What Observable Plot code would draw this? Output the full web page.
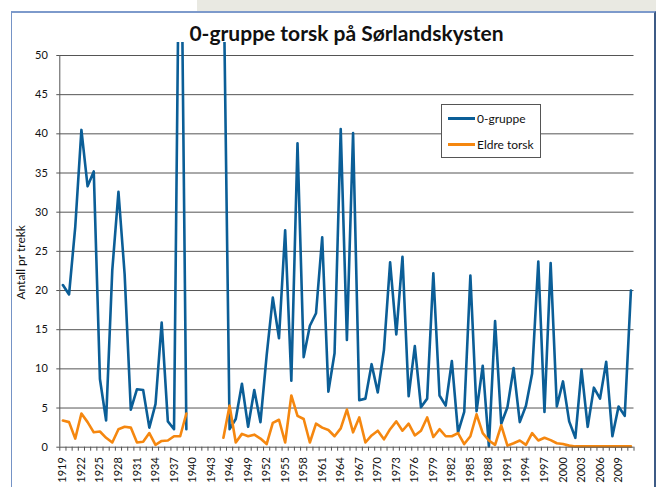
<!DOCTYPE html>
<html>
<head>
<meta charset="utf-8">
<script src="https://cdn.jsdelivr.net/npm/d3@7"></script>
<script src="https://cdn.jsdelivr.net/npm/@observablehq/plot@0.6"></script>
<style>
  html, body { margin: 0; padding: 0; background: #fff; width: 656px; height: 487px; overflow: hidden; }
  body { position: relative; font-family: Lato, "Open Sans", sans-serif; }
  #band { position: absolute; left: 197px; top: 0; width: 459px; height: 11px; background: #e9e9e2; }
  #frame { position: absolute; left: 11px; top: 11px; width: 642px; height: 480px;
           border-left: 1px solid #7593c6; border-top: 2px solid #7d9acb; border-right: 2px solid #3d5b86;
           pointer-events: none; z-index: 3; }
  #title { position: absolute; left: 59px; width: 575px; top: 19px; line-height: 28px; text-align: center;
           font-weight: bold; font-size: 21px; color: #111; z-index: 2; }
  #chart { position: absolute; left: 0; top: 42px; z-index: 1; }
  #legend { position: absolute; left: 441px; top: 104px; width: 98px; height: 52px; background: #fff;
            border: 1px solid #555; z-index: 2; font-size: 12px; color: #111; }
  .item { position: absolute; left: 6px; height: 16px; line-height: 16px; white-space: nowrap; }
  .sw { display: inline-block; width: 27px; height: 3px; vertical-align: middle; margin-right: 2px; position: relative; top: -1px; }
</style>
</head>
<body>
<div id="band"></div>
<div id="title">0-gruppe torsk på Sørlandskysten</div>
<div id="chart"></div>
<div id="legend"></div>
<div id="frame"></div>
<script>
// Categories: years 1919–2011
const firstYear = 1919, lastYear = 2011;
const years = d3.range(firstYear, lastYear + 1);

// 0-gruppe (antall pr trekk); null = no survey (1940–1944)
const gruppe0 = [
  20.7, 19.5, 28.1, 40.5, 33.3, 35.2, 8.7, 3.4, 22.6, 32.6,
  22.1, 4.8, 7.4, 7.3, 2.5, 5.5, 15.9, 3.3, 2.3, 80, 2.3,
  null, null, null, null, null,
  62, 2.3, 3.6, 8.1, 2.6, 7.3, 3.2, 11.7, 19.1, 13.9,
  27.7, 8.5, 38.8, 11.5, 15.5, 17.1, 26.8, 7.1, 12.0, 40.6,
  13.7, 40.1, 6.0, 6.2, 10.6, 7.0, 12.4, 23.6, 14.4, 24.3,
  6.5, 12.9, 5.1, 6.2, 22.2, 6.6, 5.3, 11.0, 1.9, 4.5,
  21.9, 4.6, 10.4, 0.1, 16.1, 3.0, 5.1, 10.1, 3.2, 5.3,
  9.4, 23.7, 4.5, 23.5, 5.2, 8.4, 3.3, 1.2, 9.9, 2.6,
  7.6, 6.2, 10.9, 1.4, 5.2, 4.0, 20.0
];

// Eldre torsk (antall pr trekk)
const eldre = [
  3.4, 3.2, 1.1, 4.3, 3.2, 1.9, 2.0, 1.2, 0.6, 2.3,
  2.6, 2.5, 0.6, 0.7, 1.8, 0.3, 0.8, 0.85, 1.4, 1.4, 4.3,
  null, null, null, null, null,
  1.2, 5.3, 0.6, 1.7, 1.4, 1.6, 1.1, 0.4, 3.1, 3.5,
  0.6, 6.6, 4.0, 3.6, 0.6, 3.0, 2.5, 2.2, 1.4, 2.4,
  4.8, 1.9, 3.8, 0.6, 1.5, 2.1, 1.0, 2.3, 3.3, 2.1,
  3.0, 1.5, 2.1, 3.8, 1.3, 2.3, 1.4, 1.4, 1.8, 0.4,
  1.4, 4.2, 1.8, 0.85, 0.3, 2.8, 0.2, 0.5, 0.85, 0.3,
  1.8, 0.85, 1.2, 0.9, 0.5, 0.4, 0.2, 0.1, 0.1, 0.1,
  0.1, 0.1, 0.1, 0.1, 0.1, 0.1, 0.1
];

const xLabels = ["1919", "1922", "1925", "1928", "1931", "1934", "1937", "1940", "1943", "1946", "1949", "1952",
  "1955", "1958", "1961", "1964", "1967", "1970", "1973", "1976", "1979", "1982", "1985", "1988", "1991",
  "1994", "1997", "2000", "2003", "2006", "2009"];
const yTicks = [0, 5, 10, 15, 20, 25, 30, 35, 40, 45, 50];
const seriesNames = ["0-gruppe", "Eldre torsk"];
const seriesColors = ["#0b5e97", "#f5870f"];
const yLabel = "Antall pr trekk";

const rows = years.map((year, i) => ({ year, g0: gruppe0[i], eldre: eldre[i] }));
const boundaries = d3.range(firstYear - 0.5, lastYear + 1, 1);

const chart = Plot.plot({
  width: 656,
  height: 445,
  marginTop: 13,
  marginBottom: 40.3,
  marginLeft: 59.3,
  marginRight: 22.5,
  style: { background: "transparent", fontFamily: "Lato, 'Open Sans', sans-serif", fontSize: "11px", color: "#111" },
  x: { domain: [firstYear - 0.5, lastYear + 0.5], axis: null },
  y: { domain: [0, 50], axis: null },
  marks: [
    Plot.ruleY(yTicks.filter(d => d > 0), { stroke: "#555", strokeWidth: 1 }),
    Plot.axisY({ ticks: yTicks, tickSize: 3, tickPadding: 9, label: null, stroke: "#555", fontSize: 11 }),
    Plot.axisX({ ticks: boundaries, tickSize: 4, tickFormat: () => "", label: null, stroke: "#555" }),
    Plot.text(xLabels, { x: d => +d, y: 0, text: d => d, rotate: -90, textAnchor: "end", lineAnchor: "middle", dy: 10, fontSize: 11, fill: "#111" }),
    Plot.text([yLabel], { x: firstYear - 0.5, y: 23.6, text: d => d, rotate: -90, dx: -38.6, fontSize: 12, fill: "#111" }),
    Plot.line(rows, { x: "year", y: "g0", stroke: seriesColors[0], strokeWidth: 2.6 }),
    Plot.line(rows, { x: "year", y: "eldre", stroke: seriesColors[1], strokeWidth: 2.6 }),
    Plot.ruleX([firstYear - 0.5], { stroke: "#555", strokeWidth: 1 }),
    Plot.ruleY([0], { stroke: "#555", strokeWidth: 1 })
  ]
});
document.getElementById("chart").appendChild(chart);

// Legend
const legend = document.getElementById("legend");
seriesNames.forEach((name, i) => {
  const it = document.createElement("div");
  it.className = "item";
  it.style.top = (i === 0 ? 6 : 32) + "px";
  const sw = document.createElement("span");
  sw.className = "sw";
  sw.style.background = seriesColors[i];
  it.appendChild(sw);
  it.appendChild(document.createTextNode(name));
  legend.appendChild(it);
});
</script>
</body>
</html>
